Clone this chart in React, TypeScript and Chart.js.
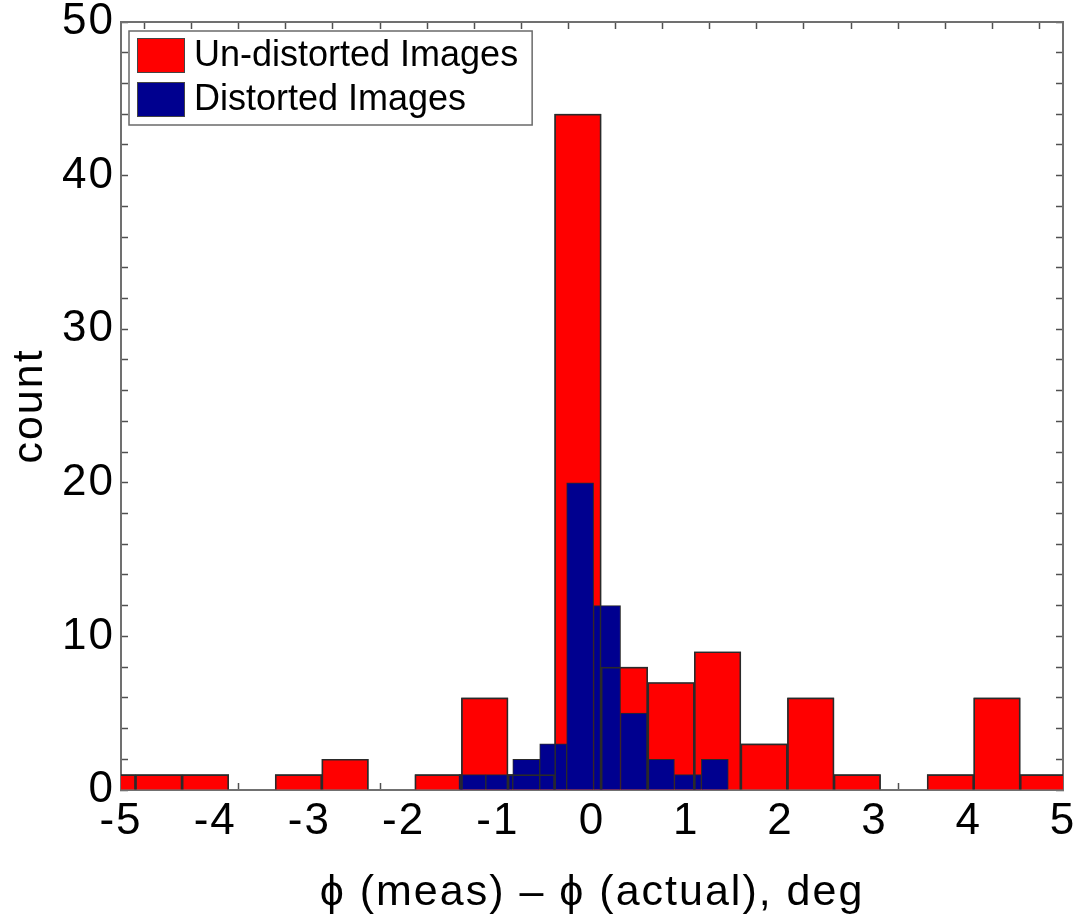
import { useEffect, useRef } from 'react';
import { Chart, registerables } from 'chart.js';

Chart.register(...registerables);

// Histogram bin centres (degrees) and counts for each image set
const undistortedCenters = [
  -5.093, -4.599, -4.104, -3.610, -3.116, -2.621, -2.127, -1.633, -1.139, -0.644,
  -0.150, 0.344, 0.839, 1.333, 1.827, 2.322, 2.816, 3.310, 3.805, 4.299, 4.793,
];
const undistortedCounts = [1, 1, 1, 0, 1, 2, 0, 1, 6, 1, 44, 8, 7, 9, 3, 6, 1, 0, 1, 6, 1];

const distortedCenters = [-1.270, -0.984, -0.698, -0.412, -0.126, 0.160, 0.446, 0.732, 1.018, 1.304];
const distortedCounts = [1, 1, 2, 3, 20, 12, 5, 2, 1, 2];

const seriesLabels = ['Un-distorted Images', 'Distorted Images'];
const seriesColors = ['#ff0000', '#00008f'];

const xRange = [-5, 5];
const yRange = [0, 50];
const xTitle = '\u03d5 (meas) \u2013 \u03d5 (actual), deg';
const yTitle = 'count';

const FONT = '"Liberation Sans", Arial, Helvetica, sans-serif';
const EDGE = '#2a2a2a';
const FRAME = '#707070';

const toPoints = (xs: number[], ys: number[]) => xs.map((x, i) => ({ x, y: ys[i] }));

// Fix an axis box to a set size and drop label overhang padding
const fixSize = (size: number) => (scale: any) => {
  if (scale.isHorizontal()) scale.height = size;
  else scale.width = size;
  scale.paddingLeft = 0;
  scale.paddingRight = 0;
  scale.paddingTop = 0;
  scale.paddingBottom = 0;
};

// Slightly wider lettering for axis text
const wideText = {
  id: 'wideText',
  beforeDraw(chart: any) {
    chart.ctx.letterSpacing = '2px';
  },
};

// Boxed legend in the upper-left corner of the plot
const boxedLegend = {
  id: 'boxedLegend',
  afterDraw(chart: any) {
    const { ctx, chartArea } = chart;
    const items = chart.data.datasets.filter((d: any) => d.label);
    ctx.save();
    ctx.letterSpacing = '0px';
    ctx.font = `36px ${FONT}`;
    const textW = Math.max(...items.map((d: any) => ctx.measureText(d.label).width));
    const pad = 8;
    const sw = 48;
    const sh = 35;
    const gap = 9;
    const rowH = 44;
    const x = chartArea.left + 8;
    const y = chartArea.top + 9;
    const w = pad + sw + gap + textW + pad + 6;
    const h = 7 + rowH * (items.length - 1) + sh + 8;
    ctx.fillStyle = '#ffffff';
    ctx.fillRect(x, y, w, h);
    ctx.strokeStyle = '#6a6a6a';
    ctx.lineWidth = 1.5;
    ctx.strokeRect(x, y, w, h);
    items.forEach((d: any, i: number) => {
      const sy = y + 7 + i * rowH;
      ctx.fillStyle = d.backgroundColor;
      ctx.fillRect(x + pad, sy, sw, sh);
      ctx.strokeStyle = '#444444';
      ctx.lineWidth = 1;
      ctx.strokeRect(x + pad + 0.5, sy + 0.5, sw - 1, sh - 1);
      ctx.fillStyle = '#000000';
      ctx.textBaseline = 'middle';
      ctx.textAlign = 'left';
      ctx.fillText(d.label, x + pad + sw + gap, sy + sh / 2 + 1);
    });
    ctx.restore();
  },
};

const frameGrid = {
  drawOnChartArea: false,
  drawTicks: true,
  tickLength: -7,
  tickColor: '#505050',
  tickWidth: 1.5,
};
const frameBorder = { display: true, color: FRAME, width: 2 };

export default function App() {
  const canvasRef = useRef<HTMLCanvasElement | null>(null);

  useEffect(() => {
    if (!canvasRef.current) return;
    const chart = new Chart(canvasRef.current, {
      type: 'bar',
      data: {
        datasets: [
          {
            label: seriesLabels[0],
            data: toPoints(undistortedCenters, undistortedCounts),
            backgroundColor: seriesColors[0],
            borderColor: EDGE,
            borderWidth: 1,
            xAxisID: 'x',
            yAxisID: 'y',
            grouped: false,
            order: 3,
          },
          {
            label: seriesLabels[1],
            data: toPoints(distortedCenters, distortedCounts),
            backgroundColor: seriesColors[1],
            borderColor: EDGE,
            borderWidth: 1,
            xAxisID: 'xTop',
            yAxisID: 'y',
            grouped: false,
            order: 2,
          },
          {
            // outline of the un-distorted bins, drawn over the distorted fill
            label: '',
            data: toPoints(undistortedCenters, undistortedCounts),
            backgroundColor: 'rgba(0,0,0,0)',
            borderColor: EDGE,
            borderWidth: 1,
            xAxisID: 'x',
            yAxisID: 'y',
            grouped: false,
            order: 1,
          },
        ] as any,
      },
      options: {
        animation: false,
        responsive: true,
        maintainAspectRatio: false,
        layout: { padding: { left: 0, right: 22, top: 22, bottom: 0 } },
        datasets: {
          bar: { barPercentage: 1, categoryPercentage: 1 },
        },
        plugins: {
          legend: { display: false },
          tooltip: { enabled: false },
        },
        scales: {
          x: {
            type: 'linear',
            position: 'bottom',
            min: xRange[0],
            max: xRange[1],
            offset: false,
            grid: frameGrid,
            border: frameBorder,
            ticks: {
              stepSize: 0.5,
              autoSkip: false,
              maxRotation: 0,
              padding: 12,
              color: '#000000',
              font: { family: FONT, size: 44 },
              callback: (v: any) => (Math.abs(v - Math.round(v)) < 1e-6 ? String(Math.round(v)) : ''),
            },
            title: {
              display: true,
              text: xTitle,
              color: '#000000',
              font: { family: FONT, size: 43 },
              padding: { top: 0, bottom: 3 },
            },
            afterFit: fixSize(132),
          },
          xTop: {
            type: 'linear',
            position: 'top',
            min: xRange[0],
            max: xRange[1],
            offset: false,
            grid: frameGrid,
            border: frameBorder,
            ticks: { stepSize: 0.5, autoSkip: false, display: false },
            afterFit: fixSize(0),
          },
          y: {
            type: 'linear',
            position: 'left',
            min: yRange[0],
            max: yRange[1],
            grid: frameGrid,
            border: frameBorder,
            ticks: {
              stepSize: 2,
              autoSkip: false,
              padding: 13,
              color: '#000000',
              font: { family: FONT, size: 44 },
              callback: (v: any) => (v % 10 === 0 ? String(v) : ''),
            },
            title: {
              display: true,
              text: yTitle,
              color: '#000000',
              font: { family: FONT, size: 43 },
              padding: { top: 4, bottom: 0 },
            },
            afterFit: fixSize(121),
          },
          yRight: {
            type: 'linear',
            position: 'right',
            min: yRange[0],
            max: yRange[1],
            grid: frameGrid,
            border: frameBorder,
            ticks: { stepSize: 2, autoSkip: false, display: false },
            afterFit: fixSize(0),
          },
        },
      } as any,
      plugins: [wideText, boxedLegend],
    });
    return () => chart.destroy();
  }, []);

  return (
    <div style={{ position: 'absolute', left: 0, top: 0, width: 1085, height: 922, background: '#ffffff' }}>
      <canvas ref={canvasRef} />
    </div>
  );
}
